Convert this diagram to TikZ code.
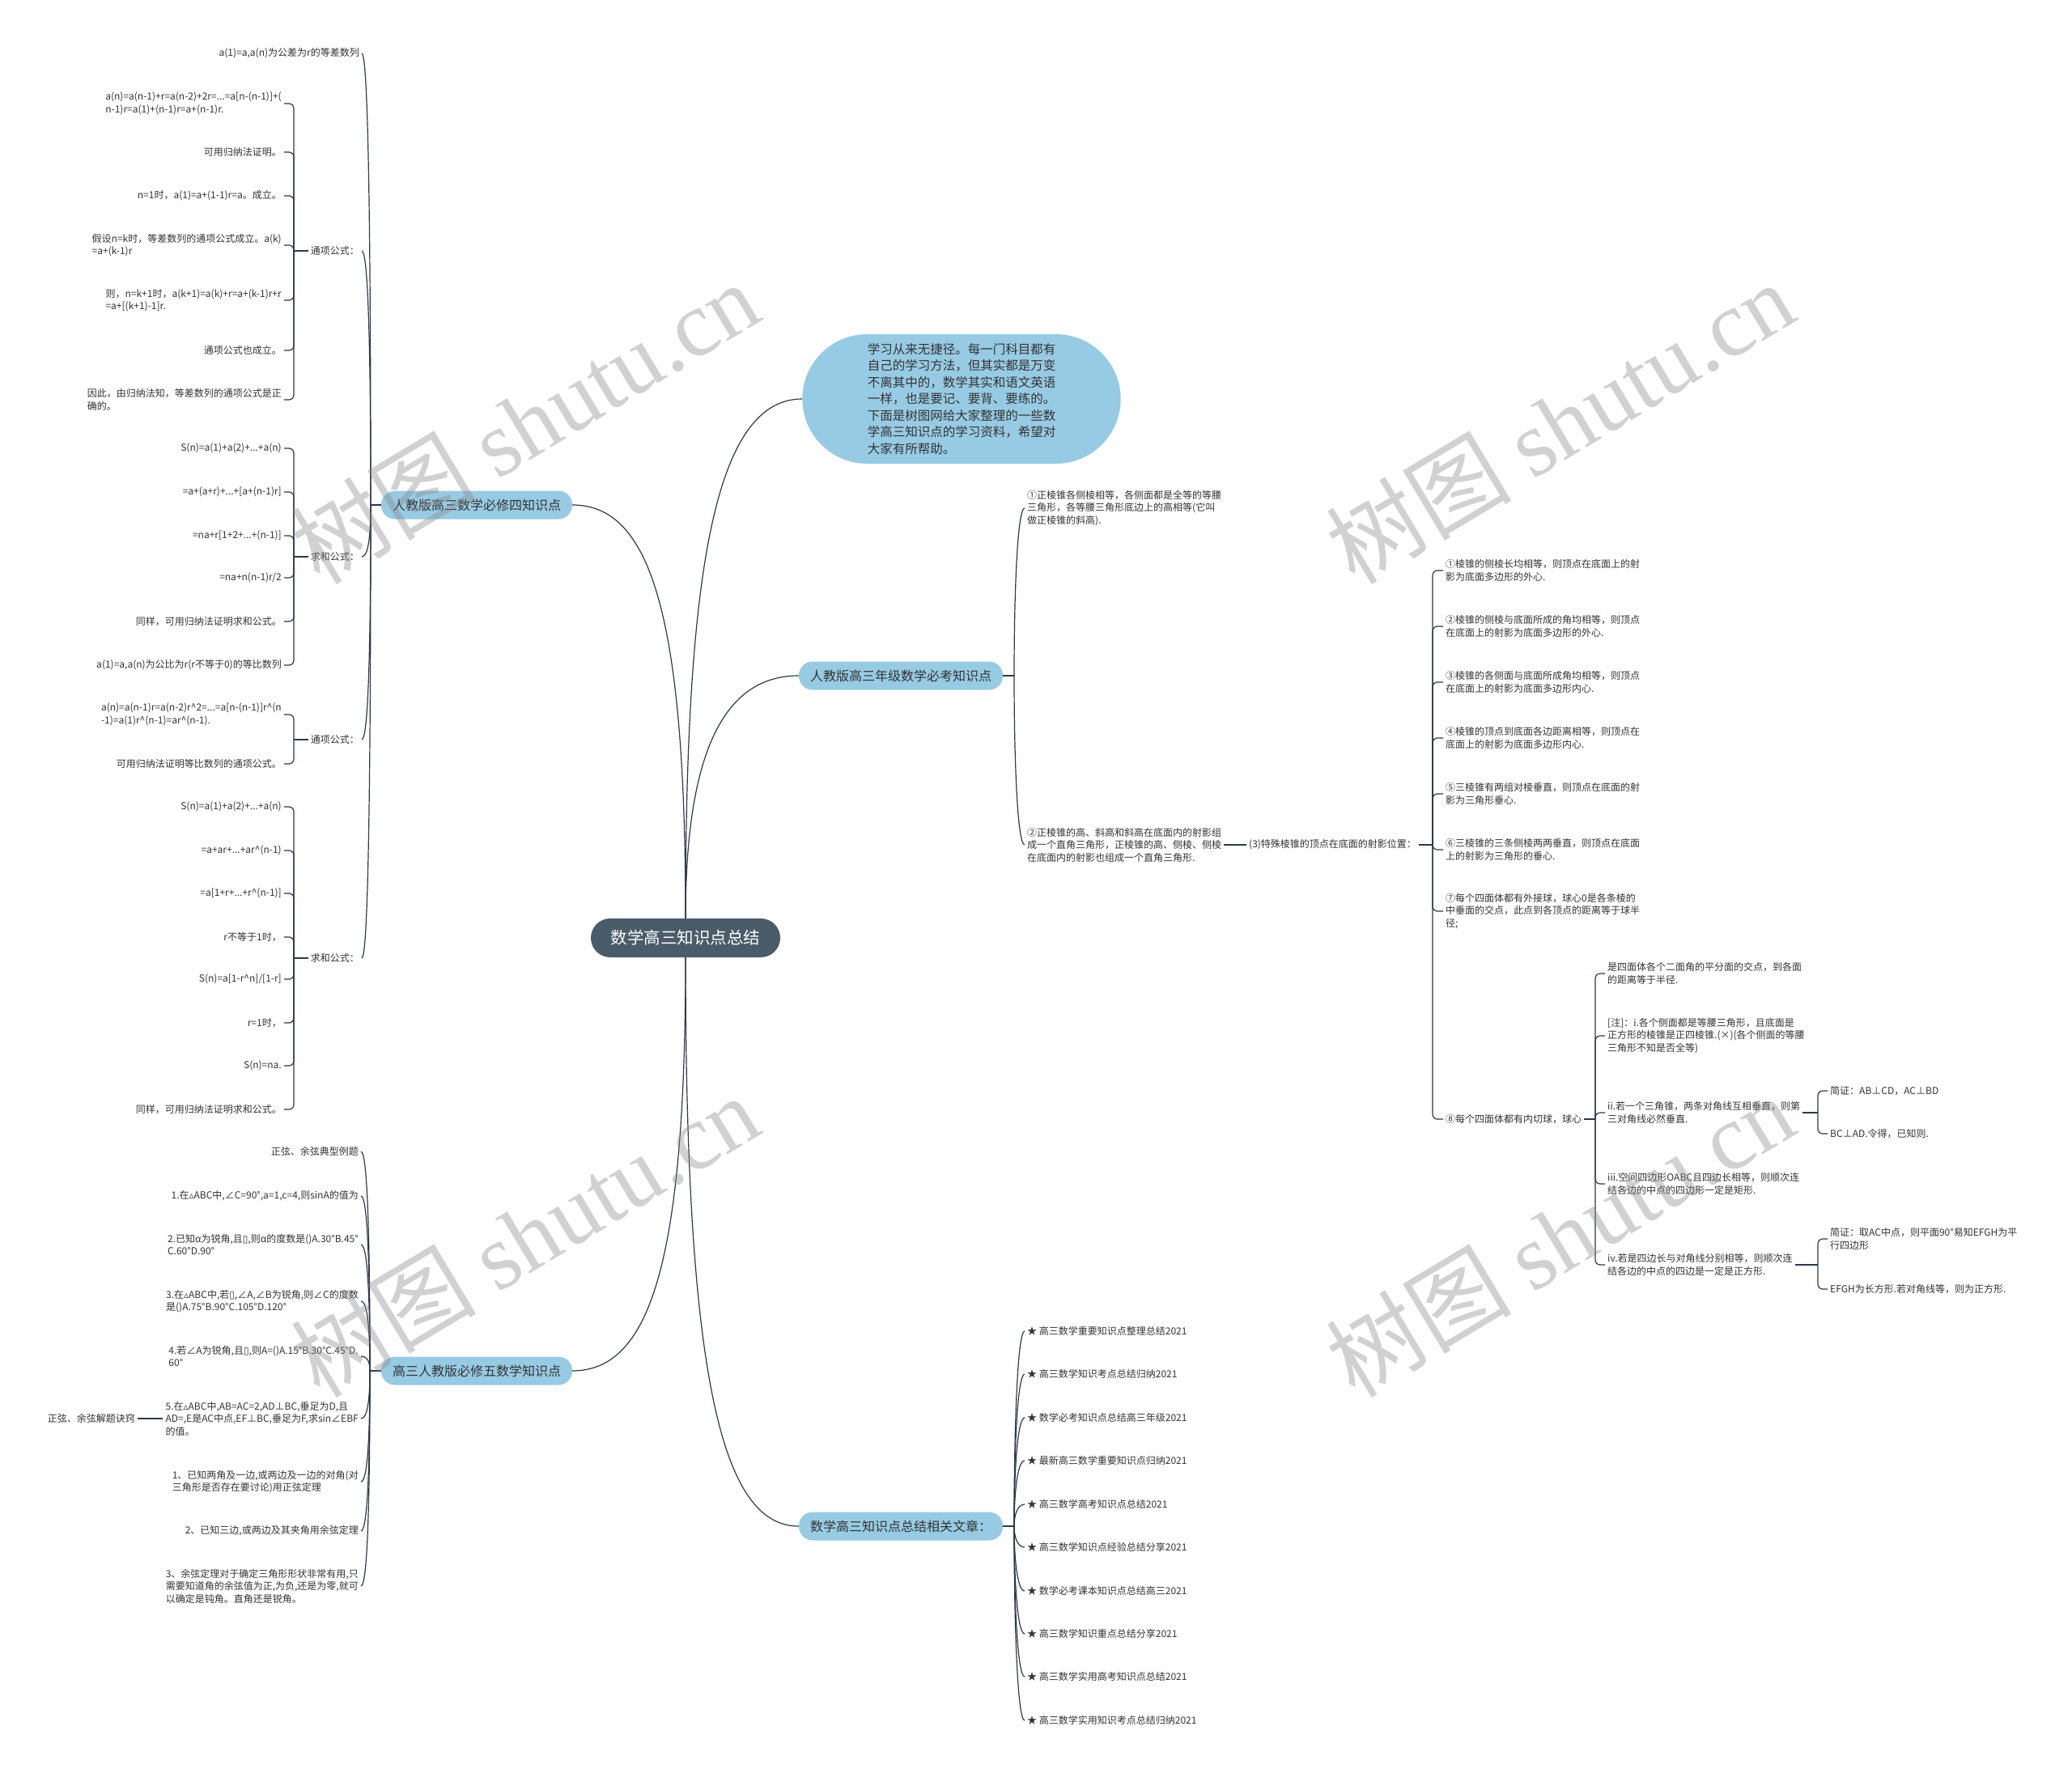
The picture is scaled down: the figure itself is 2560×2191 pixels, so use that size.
\documentclass[tikz,border=0pt]{standalone}
\usepackage{fontspec}
\setmainfont{Noto Sans CJK SC}
\newfontfamily\dvsym{DejaVu Sans}
\newfontfamily\wmserif{Liberation Serif}
\usepackage{tikz}
\usetikzlibrary{positioning, shapes.misc, calc}

\definecolor{rootgray}{HTML}{4A5B69}
\definecolor{topicblue}{HTML}{97CBE3}
\definecolor{linedark}{HTML}{2B3A4A}
\definecolor{textdark}{HTML}{333333}

\newcommand{\smalltri}{{\dvsym ▵}}
\newcommand{\boxph}{{\dvsym ▯}}
\newcommand{\crt}{\textasciicircum{}}

\begin{document}
\begin{tikzpicture}[
		x=1pt, y=-1pt,
		root/.style={rectangle, rounded corners=24pt, fill=rootgray, text=white, minimum width=234pt, minimum height=48pt, font=\fontsize{20.5}{24}\selectfont},
		topic/.style={rectangle, rounded corners=17pt, fill=topicblue, text=textdark, minimum height=35pt, inner xsep=14pt, font=\fontsize{16}{20}\selectfont},
		intro/.style={rounded rectangle, fill=topicblue, text=textdark, minimum width=400pt, minimum height=160pt, align=left, font=\fontsize{15.5}{20.5}\selectfont},
		leaf/.style={text=textdark, inner xsep=3pt, inner ysep=2pt, align=left, font=\fontsize{12}{15.5}\selectfont},
		link/.style={draw=linedark, line width=1.2pt},
		hook/.style={link, rounded corners=6pt},
		twigL/.style={link, to path={.. controls ($(\tikztostart)!0.5!(\tikztostart|-\tikztotarget)$) and ($(\tikztotarget)+(9,0)$) .. (\tikztotarget)}},
		twigR/.style={link, to path={.. controls ($(\tikztostart)!0.5!(\tikztostart|-\tikztotarget)$) and ($(\tikztotarget)+(-9,0)$) .. (\tikztotarget)}},
		wmark/.style={text=black!45, text opacity=0.4, rotate=31, font=\fontsize{115}{115}\selectfont}
		]
		\useasboundingbox (0,0) rectangle (2560,2191);
		\fill[white] (0,0) rectangle (2560,2191);
		
		% Root
		\node[root] (root) at (847,1159) {数学高三知识点总结};
		
		% Intro bubble
		\node[intro] (intro) at (1188,493) {学习从来无捷径。每一门科目都有\\自己的学习方法，但其实都是万变\\不离其中的，数学其实和语文英语\\一样，也是要记、要背、要练的。\\下面是树图网给大家整理的一些数\\学高三知识点的学习资料，希望对\\大家有所帮助。};
		
		% Main branches
		\node[topic] (req4) at (589,624) {人教版高三数学必修四知识点};
		\node[topic] (exam) at (1113,835) {人教版高三年级数学必考知识点};
		\node[topic] (req5) at (589,1694) {高三人教版必修五数学知识点};
		\node[topic] (links) at (1113,1886) {数学高三知识点总结相关文章：};
		
		% Required course 4 (left, top)
		\coordinate (req4sp) at (458,624);
		\node[leaf, anchor=east] (arith) at (447,66) {a(1)=a,a(n)为公差为r的等差数列};
		\node[leaf, anchor=east] (gen1) at (447,310) {通项公式：};
		\node[leaf, anchor=east] (sum1) at (447,688) {求和公式：};
		\node[leaf, anchor=east] (gen2) at (447,914) {通项公式：};
		\node[leaf, anchor=east] (sum2) at (447,1184) {求和公式：};
		
		\coordinate (gen1k) at (363,310);
		\node[leaf, anchor=east] (gen1a) at (351,128) {a(n)=a(n-1)+r=a(n-2)+2r=...=a[n-(n-1)]+(\\n-1)r=a(1)+(n-1)r=a+(n-1)r.};
		\node[leaf, anchor=east] (gen1b) at (351,188) {可用归纳法证明。};
		\node[leaf, anchor=east] (gen1c) at (351,242) {n=1时，a(1)=a+(1-1)r=a。成立。};
		\node[leaf, anchor=east] (gen1d) at (351,303) {假设n=k时，等差数列的通项公式成立。a(k)\\=a+(k-1)r};
		\node[leaf, anchor=east] (gen1e) at (351,371) {则，n=k+1时，a(k+1)=a(k)+r=a+(k-1)r+r\\=a+[(k+1)-1]r.};
		\node[leaf, anchor=east] (gen1f) at (351,433) {通项公式也成立。};
		\node[leaf, anchor=east] (gen1g) at (351,494) {因此，由归纳法知，等差数列的通项公式是正\\确的。};
		
		\coordinate (sum1k) at (363,688);
		\node[leaf, anchor=east] (sum1a) at (351,554) {S(n)=a(1)+a(2)+...+a(n)};
		\node[leaf, anchor=east] (sum1b) at (351,608) {=a+(a+r)+...+[a+(n-1)r]};
		\node[leaf, anchor=east] (sum1c) at (351,662) {=na+r[1+2+...+(n-1)]};
		\node[leaf, anchor=east] (sum1d) at (351,714) {=na+n(n-1)r/2};
		\node[leaf, anchor=east] (sum1e) at (351,768) {同样，可用归纳法证明求和公式。};
		\node[leaf, anchor=east] (sum1f) at (351,822) {a(1)=a,a(n)为公比为r(r不等于0)的等比数列};
		
		\coordinate (gen2k) at (363,914);
		\node[leaf, anchor=east] (gen2a) at (351,883) {a(n)=a(n-1)r=a(n-2)r\crt 2=...=a[n-(n-1)]r\crt(n\\-1)=a(1)r\crt(n-1)=ar\crt(n-1).};
		\node[leaf, anchor=east] (gen2b) at (351,944) {可用归纳法证明等比数列的通项公式。};
		
		\coordinate (sum2k) at (363,1184);
		\node[leaf, anchor=east] (sum2a) at (351,997) {S(n)=a(1)+a(2)+...+a(n)};
		\node[leaf, anchor=east] (sum2b) at (351,1051) {=a+ar+...+ar\crt(n-1)};
		\node[leaf, anchor=east] (sum2c) at (351,1104) {=a[1+r+...+r\crt(n-1)]};
		\node[leaf, anchor=east] (sum2d) at (351,1158) {r不等于1时，};
		\node[leaf, anchor=east] (sum2e) at (351,1210) {S(n)=a[1-r\crt n]/[1-r]};
		\node[leaf, anchor=east] (sum2f) at (351,1264) {r=1时，};
		\node[leaf, anchor=east] (sum2g) at (351,1317) {S(n)=na.};
		\node[leaf, anchor=east] (sum2h) at (351,1371) {同样，可用归纳法证明求和公式。};
		
		% Required course 5 (left, bottom)
		\coordinate (req5sp) at (457,1694);
		\node[leaf, anchor=east] (tri0) at (446,1423) {正弦、余弦典型例题};
		\node[leaf, anchor=east] (tri1) at (446,1478) {1.在\smalltri ABC中,∠C=90°,a=1,c=4,则sinA的值为};
		\node[leaf, anchor=east] (tri2) at (446,1538) {2.已知α为锐角,且\boxph,则α的度数是()A.30°B.45°\\C.60°D.90°};
		\node[leaf, anchor=east] (tri3) at (446,1608) {3.在\smalltri ABC中,若\boxph,∠A,∠B为锐角,则∠C的度数\\是()A.75°B.90°C.105°D.120°};
		\node[leaf, anchor=east] (tri4) at (446,1676) {4.若∠A为锐角,且\boxph,则A=()A.15°B.30°C.45°D.\\60°};
		\node[leaf, anchor=east] (tri5) at (446,1753) {5.在\smalltri ABC中,AB=AC=2,AD⊥BC,垂足为D,且\\AD=,E是AC中点,EF⊥BC,垂足为F,求sin∠EBF\\的值。};
		\node[leaf, anchor=east] (tri6) at (446,1831) {1、已知两角及一边,或两边及一边的对角(对\\三角形是否存在要讨论)用正弦定理};
		\node[leaf, anchor=east] (tri7) at (446,1892) {2、已知三边,或两边及其夹角用余弦定理};
		\node[leaf, anchor=east] (tri8) at (446,1960) {3、余弦定理对于确定三角形形状非常有用,只\\需要知道角的余弦值为正,为负,还是为零,就可\\以确定是钝角。直角还是锐角。};
		\node[leaf, anchor=east] (trick) at (170,1753) {正弦、余弦解题诀窍};
		
		% Exam points (right, top)
		\coordinate (examsp) at (1253,835);
		\node[leaf, anchor=west] (prism1) at (1266,628) {①正棱锥各侧棱相等，各侧面都是全等的等腰\\三角形，各等腰三角形底边上的高相等(它叫\\做正棱锥的斜高).};
		\node[leaf, anchor=west] (prism2) at (1266,1044) {②正棱锥的高、斜高和斜高在底面内的射影组\\成一个直角三角形，正棱锥的高、侧棱、侧棱\\在底面内的射影也组成一个直角三角形.};
		\node[leaf, anchor=west] (special) at (1540,1044) {(3)特殊棱锥的顶点在底面的射影位置：};
		
		\coordinate (specialk) at (1770,1044);
		\node[leaf, anchor=west] (pos1) at (1783,705) {①棱锥的侧棱长均相等，则顶点在底面上的射\\影为底面多边形的外心.};
		\node[leaf, anchor=west] (pos2) at (1783,774) {②棱锥的侧棱与底面所成的角均相等，则顶点\\在底面上的射影为底面多边形的外心.};
		\node[leaf, anchor=west] (pos3) at (1783,843) {③棱锥的各侧面与底面所成角均相等，则顶点\\在底面上的射影为底面多边形内心.};
		\node[leaf, anchor=west] (pos4) at (1783,912) {④棱锥的顶点到底面各边距离相等，则顶点在\\底面上的射影为底面多边形内心.};
		\node[leaf, anchor=west] (pos5) at (1783,981) {⑤三棱锥有两组对棱垂直，则顶点在底面的射\\影为三角形垂心.};
		\node[leaf, anchor=west] (pos6) at (1783,1050) {⑥三棱锥的三条侧棱两两垂直，则顶点在底面\\上的射影为三角形的垂心.};
		\node[leaf, anchor=west] (pos7) at (1783,1126) {⑦每个四面体都有外接球，球心0是各条棱的\\中垂面的交点，此点到各顶点的距离等于球半\\径;};
		\node[leaf, anchor=west] (pos8) at (1783,1383) {⑧每个四面体都有内切球，球心};
		
		\coordinate (pos8k) at (1971,1383);
		\node[leaf, anchor=west] (ins1) at (1983,1203) {是四面体各个二面角的平分面的交点，到各面\\的距离等于半径.};
		\node[leaf, anchor=west] (ins2) at (1983,1280) {[注]：i.各个侧面都是等腰三角形，且底面是\\正方形的棱锥是正四棱锥.(×)(各个侧面的等腰\\三角形不知是否全等)};
		\node[leaf, anchor=west] (ins3) at (1983,1375) {ii.若一个三角锥，两条对角线互相垂直，则第\\三对角线必然垂直.};
		\node[leaf, anchor=west] (ins4) at (1983,1463) {iii.空间四边形OABC且四边长相等，则顺次连\\结各边的中点的四边形一定是矩形.};
		\node[leaf, anchor=west] (ins5) at (1983,1563) {iv.若是四边长与对角线分别相等，则顺次连\\结各边的中点的四边是一定是正方形.};
		
		\coordinate (ins3k) at (2246,1375);
		\node[leaf, anchor=west] (proof1) at (2258,1348) {简证：AB⊥CD，AC⊥BD};
		\node[leaf, anchor=west] (proof2) at (2258,1401) {BC⊥AD.令得，已知则.};
		\coordinate (ins5k) at (2246,1563);
		\node[leaf, anchor=west] (proof3) at (2258,1531) {简证：取AC中点，则平面90°易知EFGH为平\\行四边形};
		\node[leaf, anchor=west] (proof4) at (2258,1593) {EFGH为长方形.若对角线等，则为正方形.};
		
		% Related articles (right, bottom)
		\coordinate (linksp) at (1253,1886);
		\node[leaf, anchor=west] (art1) at (1266,1645) {★ 高三数学重要知识点整理总结2021};
		\node[leaf, anchor=west] (art2) at (1266,1698) {★ 高三数学知识考点总结归纳2021};
		\node[leaf, anchor=west] (art3) at (1266,1752) {★ 数学必考知识点总结高三年级2021};
		\node[leaf, anchor=west] (art4) at (1266,1805) {★ 最新高三数学重要知识点归纳2021};
		\node[leaf, anchor=west] (art5) at (1266,1859) {★ 高三数学高考知识点总结2021};
		\node[leaf, anchor=west] (art6) at (1266,1912) {★ 高三数学知识点经验总结分享2021};
		\node[leaf, anchor=west] (art7) at (1266,1966) {★ 数学必考课本知识点总结高三2021};
		\node[leaf, anchor=west] (art8) at (1266,2019) {★ 高三数学知识重点总结分享2021};
		\node[leaf, anchor=west] (art9) at (1266,2072) {★ 高三数学实用高考知识点总结2021};
		\node[leaf, anchor=west] (art10) at (1266,2126) {★ 高三数学实用知识考点总结归纳2021};
		
		% Connections from the root
		\draw[link] (root.north) .. controls +(0,-420) and +(-110,0) .. (intro.west);
		\draw[link] (root.north) .. controls +(0,-380) and +(95,0) .. (req4.east);
		\draw[link] (root.north) .. controls +(0,-220) and +(-85,0) .. (exam.west);
		\draw[link] (root.south) .. controls +(0,380) and +(95,0) .. (req5.east);
		\draw[link] (root.south) .. controls +(0,520) and +(-95,0) .. (links.west);
		
		% Branch spines
		\draw[link] (req4.west) -- (req4sp);
		\foreach \c in {arith, gen1, sum1, gen2, sum2}
			\draw[twigL] (req4sp) to (\c.east);
		\draw[link] (req5.west) -- (req5sp);
		\foreach \c in {tri0, tri1, tri2, tri3, tri4, tri5, tri6, tri7, tri8}
			\draw[twigL] (req5sp) to (\c.east);
		\draw[link] (exam.east) -- (examsp);
		\foreach \c in {prism1, prism2}
			\draw[twigR] (examsp) to (\c.west);
		\draw[link] (links.east) -- (linksp);
		\foreach \c in {art1, art2, art3, art4, art5, art6, art7, art8, art9, art10}
			\draw[twigR] (linksp) to (\c.west);
		
		% Brackets, left side
		\draw[link] (gen1.west) -- (gen1k);
		\foreach \c in {gen1a, gen1b, gen1c, gen1d, gen1e, gen1f, gen1g}
			\draw[hook] (gen1k) |- (\c.east);
		\draw[link] (sum1.west) -- (sum1k);
		\foreach \c in {sum1a, sum1b, sum1c, sum1d, sum1e, sum1f}
			\draw[hook] (sum1k) |- (\c.east);
		\draw[link] (gen2.west) -- (gen2k);
		\foreach \c in {gen2a, gen2b}
			\draw[hook] (gen2k) |- (\c.east);
		\draw[link] (sum2.west) -- (sum2k);
		\foreach \c in {sum2a, sum2b, sum2c, sum2d, sum2e, sum2f, sum2g, sum2h}
			\draw[hook] (sum2k) |- (\c.east);
		\draw[link] (tri5.west) -- (trick.east);
		
		% Brackets, right side
		\draw[link] (prism2.east) -- (special.west);
		\draw[link] (special.east) -- (specialk);
		\foreach \c in {pos1, pos2, pos3, pos4, pos5, pos6, pos7, pos8}
			\draw[hook] (specialk) |- (\c.west);
		\draw[link] (pos8.east) -- (pos8k);
		\foreach \c in {ins1, ins2, ins3, ins4, ins5}
			\draw[hook] (pos8k) |- (\c.west);
		\draw[link] (ins3.east) -- (ins3k);
		\foreach \c in {proof1, proof2}
			\draw[hook] (ins3k) |- (\c.west);
		\draw[link] (ins5.east) -- (ins5k);
		\foreach \c in {proof3, proof4}
			\draw[hook] (ins5k) |- (\c.west);
		
		% Watermarks
		\node[wmark] (wm1) at (648,522) {树图 {\wmserif shutu.cn}};
		\node[wmark] (wm2) at (1927,522) {树图 {\wmserif shutu.cn}};
		\node[wmark] (wm3) at (648,1527) {树图 {\wmserif shutu.cn}};
		\node[wmark] (wm4) at (1927,1527) {树图 {\wmserif shutu.cn}};
		
	\end{tikzpicture}
\end{document}
